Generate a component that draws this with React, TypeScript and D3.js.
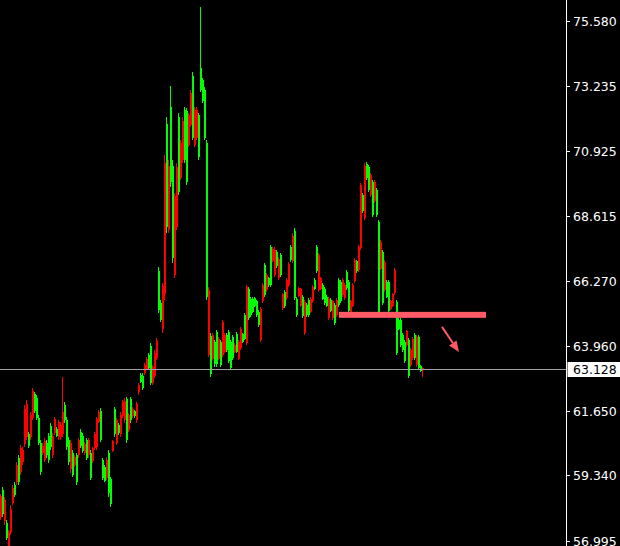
import React from "react";
import * as d3 from "d3";

// OHLC candles, oldest first
const opens = [
  58.60, 57.95, 58.45, 57.10, 57.30, 58.15, 58.90, 58.65, 59.70, 59.10,
  60.30, 60.25, 61.70, 61.90, 60.40, 61.50, 62.35, 61.65, 61.40, 60.50,
  59.45, 60.40, 60.55, 60.05, 59.90, 60.35, 60.75, 61.35, 60.75, 61.25,
  61.15, 61.60, 61.30, 60.35, 59.80, 60.50, 59.35, 60.00, 59.10, 60.60,
  60.40, 60.20, 60.45, 59.95, 60.60, 59.25, 60.30, 60.80, 61.35, 61.60,
  60.60, 59.25, 59.15, 59.90, 58.70, 58.30, 60.55, 60.80, 61.30, 60.85,
  61.50, 61.95, 62.00, 60.60, 61.50, 61.30, 61.70, 61.45, 61.90, 62.55,
  62.68, 62.45, 63.28, 63.50, 63.18, 62.65, 63.20, 63.72, 64.15, 65.25,
  64.90, 66.10, 70.50, 68.20, 70.40, 69.80, 67.10, 69.30, 70.35, 69.45,
  71.20, 72.00, 70.60, 69.80, 72.20, 73.00, 71.40, 72.40, 72.40, 70.70,
  73.10, 72.70, 71.40, 65.70, 65.95, 62.95, 64.35, 63.30, 63.30, 64.20,
  63.28, 64.80, 64.35, 63.80, 63.42, 63.18, 63.52, 64.00, 63.76, 64.10,
  64.58, 64.10, 64.22, 66.05, 64.95, 65.05, 65.18, 65.40, 65.05, 64.70,
  65.28, 66.15, 65.78, 66.50, 66.12, 66.12, 67.42, 67.40, 66.80, 67.05,
  66.48, 65.80, 65.38, 66.32, 66.90, 67.02, 67.90, 65.68, 65.05, 66.02,
  65.98, 65.02, 65.52, 65.05, 65.05, 65.65, 66.08, 66.00, 66.62, 67.20,
  66.38, 65.65, 65.48, 65.40, 65.65, 65.22, 65.55, 64.78, 65.60, 65.42,
  65.55, 66.32, 66.15, 66.02, 65.20, 65.55, 66.15, 67.02, 66.62, 67.48,
  69.70, 68.78, 70.40, 69.95, 69.52, 70.05, 68.62, 69.82, 68.62, 65.05,
  67.66, 65.50, 66.96, 65.72, 65.22, 65.55, 65.80, 66.68, 63.70, 64.58,
  63.98, 63.80, 63.42, 64.48, 62.88, 63.82, 64.22, 63.52, 64.28, 63.16,
  63.06, 63.19,
];

const highs = [
  58.68, 58.92, 58.57, 57.75, 57.39, 58.28, 58.99, 59.10, 59.82, 60.07,
  60.42, 60.35, 61.85, 62.03, 60.89, 61.60, 62.45, 62.32, 62.21, 61.49,
  60.60, 60.49, 60.67, 60.60, 60.85, 61.21, 60.85, 61.42, 61.07, 61.32,
  61.24, 62.85, 61.96, 61.42, 60.71, 60.60, 60.25, 60.07, 60.14, 60.67,
  61.00, 60.85, 60.53, 60.67, 60.67, 60.25, 60.35, 60.89, 61.42, 61.67,
  61.74, 59.96, 59.71, 59.99, 60.25, 59.28, 60.60, 61.78, 61.39, 61.21,
  61.60, 62.03, 62.10, 62.14, 61.56, 62.14, 61.78, 61.67, 61.96, 62.63,
  62.99, 62.99, 63.34, 63.56, 63.70, 64.06, 63.28, 63.81, 64.24, 66.78,
  65.60, 66.21, 70.78, 72.13, 70.60, 73.24, 70.60, 69.42, 70.49, 72.28,
  71.31, 72.13, 72.49, 72.46, 72.28, 73.10, 73.74, 72.49, 72.49, 72.28,
  76.05, 73.53, 73.21, 71.31, 66.07, 64.42, 64.42, 64.17, 64.53, 64.28,
  64.17, 64.89, 64.42, 64.42, 64.53, 64.17, 64.35, 64.06, 64.46, 64.17,
  64.64, 64.42, 65.13, 66.14, 66.07, 65.71, 65.71, 65.71, 65.60, 65.24,
  65.35, 66.21, 66.92, 66.56, 66.42, 67.56, 67.49, 67.49, 67.39, 67.14,
  67.28, 65.85, 65.96, 66.39, 66.96, 67.56, 67.99, 68.17, 65.71, 66.07,
  66.03, 65.78, 65.60, 65.49, 65.67, 65.71, 66.14, 66.39, 67.56, 67.28,
  66.42, 66.21, 66.07, 65.78, 65.71, 65.67, 65.60, 65.49, 65.67, 66.39,
  66.32, 66.39, 66.21, 66.67, 66.32, 65.60, 66.21, 67.10, 67.03, 67.56,
  69.78, 69.42, 70.49, 70.53, 70.42, 70.13, 69.89, 69.89, 69.60, 68.46,
  67.74, 67.39, 67.03, 66.32, 66.32, 65.60, 65.85, 66.74, 65.60, 64.96,
  64.96, 64.42, 64.17, 64.53, 64.24, 63.88, 64.28, 64.42, 64.35, 64.35,
  63.28, 63.21,
];

const lows = [
  57.75, 57.85, 57.57, 57.03, 56.67, 57.21, 58.28, 58.57, 58.99, 58.99,
  59.35, 59.71, 60.35, 60.60, 60.31, 60.60, 61.32, 61.56, 61.32, 60.42,
  59.35, 60.07, 59.82, 59.96, 59.78, 60.25, 59.96, 60.78, 60.71, 60.60,
  60.60, 60.71, 61.21, 60.25, 59.71, 59.42, 59.28, 59.64, 58.99, 59.96,
  60.31, 60.14, 60.07, 59.89, 59.96, 59.17, 59.78, 60.25, 60.25, 61.21,
  60.53, 59.17, 59.10, 59.17, 58.57, 58.21, 60.17, 60.71, 60.42, 60.78,
  60.71, 61.39, 61.21, 60.49, 60.89, 61.21, 61.39, 61.39, 61.21, 62.21,
  62.63, 62.39, 62.92, 63.10, 63.10, 62.56, 62.56, 62.81, 63.45, 65.13,
  64.82, 64.42, 65.60, 67.99, 67.99, 69.64, 66.92, 66.39, 68.10, 69.35,
  69.89, 70.49, 70.49, 69.71, 71.06, 71.78, 71.31, 71.06, 71.31, 70.60,
  73.03, 72.63, 71.31, 65.60, 63.56, 62.85, 63.45, 63.21, 63.21, 63.45,
  63.21, 63.56, 63.70, 63.74, 63.35, 63.10, 63.45, 63.70, 63.70, 63.45,
  63.81, 64.06, 64.17, 63.99, 64.89, 64.99, 65.13, 65.35, 64.99, 64.64,
  64.10, 65.49, 65.71, 65.89, 66.07, 66.07, 66.96, 66.42, 66.74, 66.32,
  66.42, 65.24, 65.31, 65.60, 66.07, 66.96, 66.92, 65.60, 64.99, 65.71,
  65.35, 64.96, 64.35, 64.99, 64.99, 65.13, 65.49, 65.96, 66.56, 65.89,
  65.96, 65.60, 65.42, 65.35, 64.89, 65.17, 64.89, 64.71, 64.99, 65.35,
  65.49, 65.71, 65.60, 65.96, 65.13, 64.99, 65.35, 66.21, 66.56, 66.60,
  67.39, 68.71, 68.46, 69.89, 69.46, 69.28, 68.56, 69.06, 68.56, 64.99,
  66.67, 65.42, 65.89, 65.67, 65.17, 65.24, 65.35, 65.78, 63.63, 64.53,
  63.92, 63.74, 63.35, 63.92, 62.81, 63.21, 63.45, 63.45, 63.21, 63.10,
  63.03, 62.85,
];

const closes = [
  57.85, 58.80, 57.70, 57.65, 56.80, 57.30, 58.35, 59.00, 59.10, 59.95,
  59.45, 59.80, 60.45, 60.70, 60.80, 60.70, 61.40, 62.25, 62.10, 61.40,
  60.50, 60.15, 59.90, 60.50, 60.75, 61.10, 60.05, 60.85, 61.00, 60.70,
  60.70, 60.80, 61.85, 61.30, 60.60, 59.55, 60.15, 59.70, 60.05, 60.05,
  60.90, 60.75, 60.12, 60.60, 60.05, 60.15, 59.85, 60.30, 60.35, 61.25,
  61.65, 59.90, 59.65, 59.25, 60.15, 59.20, 60.20, 61.70, 60.50, 61.15,
  60.80, 61.45, 61.30, 62.05, 60.95, 62.05, 61.45, 61.62, 61.30, 62.30,
  62.92, 62.90, 62.98, 63.15, 63.62, 63.95, 62.65, 62.90, 63.52, 66.65,
  65.50, 64.55, 65.80, 71.90, 68.10, 72.50, 70.40, 66.50, 68.20, 72.15,
  69.95, 70.60, 72.40, 72.35, 71.15, 71.85, 73.60, 71.15, 71.40, 72.20,
  73.90, 73.45, 73.10, 71.20, 63.65, 64.30, 63.50, 64.10, 64.45, 63.50,
  64.10, 63.62, 63.75, 64.35, 64.45, 64.10, 64.28, 63.75, 64.40, 63.50,
  63.88, 64.38, 65.05, 64.08, 66.00, 65.65, 65.65, 65.66, 65.55, 65.18,
  64.18, 65.55, 66.85, 65.95, 66.38, 67.48, 67.00, 66.50, 67.32, 66.38,
  67.22, 65.30, 65.90, 65.66, 66.12, 67.50, 67.00, 68.08, 65.65, 65.76,
  65.40, 65.70, 64.42, 65.42, 65.60, 65.18, 65.55, 66.33, 67.48, 65.95,
  66.00, 66.15, 66.00, 65.72, 64.95, 65.60, 64.95, 65.42, 65.05, 66.32,
  66.25, 65.78, 65.66, 66.60, 66.25, 65.05, 65.40, 66.28, 66.98, 66.66,
  67.45, 69.35, 68.52, 70.45, 70.35, 69.35, 69.82, 69.12, 69.52, 68.38,
  66.72, 67.30, 65.95, 66.25, 66.25, 65.28, 65.40, 65.84, 65.52, 64.90,
  64.90, 64.35, 64.10, 63.98, 64.18, 63.28, 63.52, 64.35, 63.28, 64.28,
  63.24, 63.128,
];

// Price scale labels
const priceTicks = [75.58, 73.235, 70.925, 68.615, 66.27, 63.96, 61.65, 59.34, 56.995];

// Drawn objects: horizontal level (bar index span) and a down arrow (bar index, price)
const levelPrice = 65.07;
const levelSpan = [169.5, 243];
const arrowStart = [221, 64.64];
const arrowEnd = [229.5, 63.74];

const W = 620;
const H = 546;
const PLOT_RIGHT = 566;
const UP = "#00ff00";
const DOWN = "#ff0000";
const MARK = "#ff5a66";
const FONT = "'DejaVu Sans', Verdana, sans-serif";

export default function App() {
  const x = d3.scaleLinear().domain([0, 283]).range([0, PLOT_RIGHT]);
  const y = d3.scaleLinear().domain([56.995, 75.58]).range([541, 20.5]);
  const fmt = d3.format(".3f");
  const last = closes[closes.length - 1];
  const lastY = Math.round(y(last)) + 0.5;

  // arrow geometry
  const [ax0, ay0] = [x(arrowStart[0]), y(arrowStart[1])];
  const [ax1, ay1] = [x(arrowEnd[0]), y(arrowEnd[1])];
  const len = Math.hypot(ax1 - ax0, ay1 - ay0);
  const ux = (ax1 - ax0) / len;
  const uy = (ay1 - ay0) / len;
  const headLen = 11;
  const headHalf = 4.5;
  const bx = ax1 - ux * headLen;
  const by = ay1 - uy * headLen;
  const head = [
    [ax1, ay1],
    [bx - uy * headHalf, by + ux * headHalf],
    [bx + uy * headHalf, by - ux * headHalf],
  ];

  return (
    <>
      <style>{`html,body{margin:0;padding:0;background:#000;overflow:hidden}`}</style>
      <svg width={W} height={H} style={{ display: "block", background: "#000" }}>
        <rect width={W} height={H} fill="#000" />
        <g shapeRendering="crispEdges">
          {opens.map((o, i) => {
            const c = closes[i];
            const color = c >= o ? UP : DOWN;
            const yh = y(highs[i]);
            const yl = y(lows[i]);
            const yt = y(Math.max(o, c));
            const yb = y(Math.min(o, c));
            return (
              <g key={i} fill={color}>
                <rect x={x(i)} y={yh} width={1} height={Math.max(1, yl - yh)} />
                <rect x={x(i)} y={yt} width={x(i + 1) - x(i)} height={Math.max(1, yb - yt)} />
              </g>
            );
          })}
        </g>

        {/* last price line */}
        <line x1={0} x2={PLOT_RIGHT} y1={lastY} y2={lastY} stroke="#a0a0a0" strokeWidth={1} />

        {/* horizontal level */}
        <rect
          x={x(levelSpan[0])}
          y={y(levelPrice) - 3}
          width={x(levelSpan[1]) - x(levelSpan[0])}
          height={6}
          fill={MARK}
        />

        {/* arrow */}
        <line x1={ax0} y1={ay0} x2={bx} y2={by} stroke={MARK} strokeWidth={2} />
        <polygon points={head.map((p) => p.join(",")).join(" ")} fill={MARK} />

        {/* price axis */}
        <line x1={PLOT_RIGHT + 0.5} x2={PLOT_RIGHT + 0.5} y1={0} y2={H} stroke="#fff" />
        {priceTicks.map((t) => {
          const ty = Math.round(y(t)) + 0.5;
          return (
            <g key={t}>
              <line x1={PLOT_RIGHT + 1} x2={PLOT_RIGHT + 4} y1={ty} y2={ty} stroke="#fff" />
              <text
                x={573}
                y={ty}
                dy="0.36em"
                fill="#fff"
                fontFamily={FONT}
                fontSize={12.5}
              >
                {fmt(t)}
              </text>
            </g>
          );
        })}

        {/* last price tag */}
        <rect x={PLOT_RIGHT + 1.5} y={lastY - 7.5} width={W - PLOT_RIGHT} height={15} fill="#fff" />
        <text x={573} y={lastY} dy="0.36em" fill="#000" fontFamily={FONT} fontSize={12.5}>
          {fmt(last)}
        </text>
      </svg>
    </>
  );
}
